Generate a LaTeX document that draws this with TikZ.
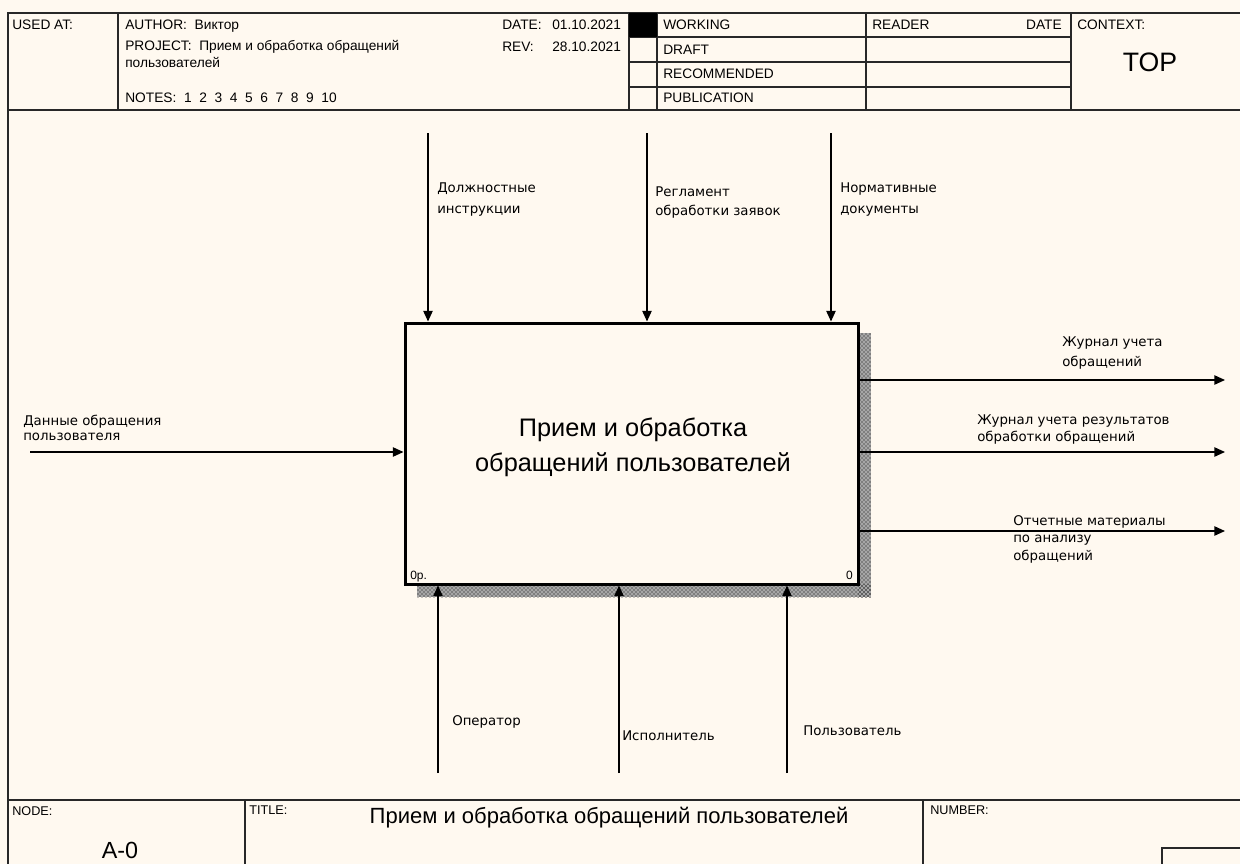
\documentclass[tikz,border=0pt]{standalone}
\usepackage{fontspec}
\setmainfont{Liberation Sans}
\newfontfamily\lblfont{DejaVu Sans}
\usetikzlibrary{arrows.meta,patterns}

\definecolor{paper}{RGB}{255,249,240}
\definecolor{rule}{RGB}{40,40,40}

\tikzset{
  frame/.style={draw=rule,line width=1.5pt},
  flow/.style={draw=black,line width=1.1pt,-{Triangle[length=8pt,width=7pt]}},
  small/.style={font=\fontsize{10.3}{12}\selectfont,inner sep=0pt,anchor=base west,align=left},
  lbl/.style={inner sep=0pt,anchor=base west,align=left},
  funcbox/.style={draw=black,line width=2.25pt,fill=paper,
    minimum width=339.75pt,minimum height=195.75pt,inner sep=0pt},
  bigtext/.style={font=\fontsize{19}{26}\selectfont,align=center,inner sep=0pt,anchor=base},
  shadow/.style={pattern=crosshatch dots,pattern color=black}
}
% diagram labels: font size and line spacing
\newcommand{\lblsize}[1]{\lblfont\fontsize{10}{#1}\selectfont}

\begin{document}
\begin{tikzpicture}[x=0.75pt,y=-0.75pt]
\useasboundingbox (0,0) rectangle (1240,864);
\fill[paper] (0,0) rectangle (1240,864);

\begin{scope}
\clip (0,0) rectangle (1240,864);

% ---------- outer frame and header grid ----------
\draw[frame] (1260,13) -- (8,13) -- (8,880);
\draw[frame] (8,110) -- (1260,110);
\draw[frame] (118,13) -- (118,110);
\draw[frame] (629,13) -- (629,110);
\draw[frame] (657,13) -- (657,110);
\draw[frame] (866,13) -- (866,110);
\draw[frame] (1071,13) -- (1071,110);
\draw[frame] (629,37) -- (1071,37);
\draw[frame] (629,62) -- (1071,62);
\draw[frame] (629,87) -- (1071,87);
\fill[black] (629,13) rectangle (657,37);

% ---------- header texts ----------
\node[small] (usedat) at (12,29.5) {USED AT:};
\node[small] (author) at (125,29.5) {AUTHOR:\ \ Виктор};
\node[small,font=\fontsize{10.3}{12.75}\selectfont] (project) at (125,67)
  {PROJECT:\ \ Прием и обработка обращений\\пользователей};
\node[small] (notes) at (125,102) {NOTES:\ \ 1\ \ 2\ \ 3\ \ 4\ \ 5\ \ 6\ \ 7\ \ 8\ \ 9\ \ 10};
\node[small] (datek) at (502,29.5) {DATE:};
\node[small] (datev) at (552,29.5) {01.10.2021};
\node[small] (revk) at (502,51) {REV:};
\node[small] (revv) at (552,51) {28.10.2021};
\node[small] (working) at (663,29.5) {WORKING};
\node[small] (draft) at (663,54.5) {DRAFT};
\node[small] (recom) at (663,78.5) {RECOMMENDED};
\node[small] (publ) at (663,102.5) {PUBLICATION};
\node[small] (reader) at (872,29.5) {READER};
\node[small,anchor=base east] (rdate) at (1062,29.5) {DATE};
\node[small] (context) at (1077,29.5) {CONTEXT:};
\node[font=\fontsize{20}{22}\selectfont,inner sep=0pt,anchor=base] (top) at (1150,71) {TOP};

% ---------- footer ----------
\draw[frame] (8,800) -- (1260,800);
\draw[frame] (245,800) -- (245,880);
\draw[frame] (923,800) -- (923,880);
\draw[frame] (1162,880) -- (1162,848) -- (1260,848);
\node[small,font=\fontsize{9.5}{11}\selectfont] (nodek) at (12,815) {NODE:};
\node[font=\fontsize{17.5}{20}\selectfont,inner sep=0pt,anchor=base] (nodev) at (120,858) {A-0};
\node[small,font=\fontsize{9.5}{11}\selectfont] (titlek) at (249,814) {TITLE:};
\node[font=\fontsize{16.5}{20}\selectfont,inner sep=0pt,anchor=base] (titlev) at (609,823)
  {Прием и обработка обращений пользователей};
\node[small,font=\fontsize{9.5}{11}\selectfont] (numberk) at (930,814) {NUMBER:};

% ---------- activity box with its shadow ----------
\fill[black!35] (858,333) rectangle (871,597);
\fill[black!35] (417,584) rectangle (871,597);
\fill[shadow] (858,333) rectangle (871,597);
\fill[shadow] (417,584) rectangle (871,597);
\node[funcbox] (fn) at (631.5,453.5) {};
\node[bigtext] (fntext) at (633,471) {Прием и обработка\\обращений пользователей};
\node[small,font=\fontsize{9}{11}\selectfont] (fnnum) at (410,579) {0р.};
\node[small,font=\fontsize{9}{11}\selectfont,anchor=base east] (fnid) at (853,579) {0};

% ---------- controls ----------
\coordinate (c1) at (428,133);
\coordinate (c2) at (647,133);
\coordinate (c3) at (831,133);
\draw[flow] (c1) -- (c1 |- fn.north);
\draw[flow] (c2) -- (c2 |- fn.north);
\draw[flow] (c3) -- (c3 |- fn.north);
\node[lbl,font=\lblsize{15.75}] (c1l) at (437,213) {Должностные\\инструкции};
\node[lbl,font=\lblsize{14}] (c2l) at (655,215) {Регламент\\обработки заявок};
\node[lbl,font=\lblsize{15.75}] (c3l) at (840,213) {Нормативные\\документы};

% ---------- input ----------
\coordinate (i1) at (30,452);
\draw[flow] (i1) -- (i1 -| fn.west);
\node[lbl,font=\lblsize{11.25}] (i1l) at (23,440) {Данные обращения\\пользователя};

% ---------- outputs ----------
\coordinate (o1) at (1225,380);
\coordinate (o2) at (1225,452);
\coordinate (o3) at (1225,531);
\draw[flow] (o1 -| fn.east) -- (o1);
\draw[flow] (o2 -| fn.east) -- (o2);
\draw[flow] (o3 -| fn.east) -- (o3);
\node[lbl,font=\lblsize{15}] (o1l) at (1062,366) {Журнал учета\\обращений};
\node[lbl,font=\lblsize{12.75}] (o2l) at (977,441) {Журнал учета результатов\\обработки обращений};
\node[lbl,font=\lblsize{13}] (o3l) at (1013,560) {Отчетные материалы\\по анализу\\обращений};

% ---------- mechanisms ----------
\coordinate (m1) at (438,773);
\coordinate (m2) at (619,773);
\coordinate (m3) at (787,773);
\draw[flow] (m1) -- (m1 |- fn.south);
\draw[flow] (m2) -- (m2 |- fn.south);
\draw[flow] (m3) -- (m3 |- fn.south);
\node[lbl,font=\lblsize{12}] (m1l) at (452,725) {Оператор};
\node[lbl,font=\lblsize{12}] (m2l) at (622,740) {Исполнитель};
\node[lbl,font=\lblsize{12}] (m3l) at (803,735) {Пользователь};
\end{scope}
\end{tikzpicture}
\end{document}
